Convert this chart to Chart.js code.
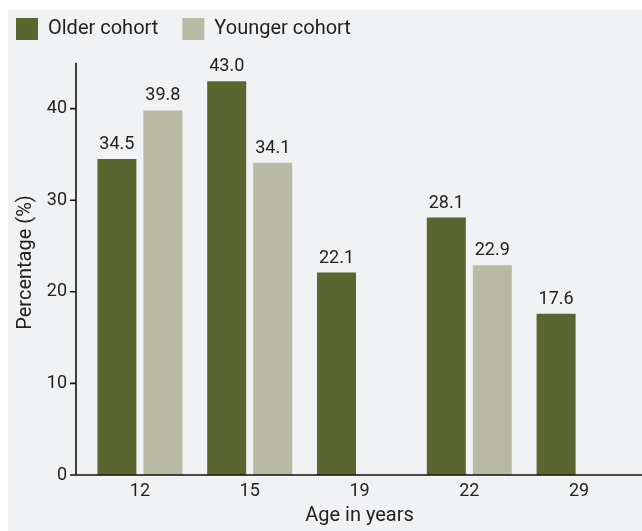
<!DOCTYPE html>
<html>
<head>
<meta charset="utf-8">
<script src="https://cdn.jsdelivr.net/npm/chart.js@4"></script>
<style>
  html, body { margin: 0; padding: 0; background: #ffffff; }
  #wrap { width: 642px; height: 531px; position: relative; }
</style>
</head>
<body>
<div id="wrap"><canvas id="chart"></canvas></div>
<script>
// data
const ages = ['12', '15', '19', '22', '29'];
const olderCohort = [34.5, 43.0, 22.1, 28.1, 17.6];
const youngerCohort = [39.8, 34.1, null, 22.9, null];
const yTicks = [0, 10, 20, 30, 40];

const FONT = "Roboto, 'Noto Sans', sans-serif";
const TEXT = '#222222';

// grey panel behind the chart
const panelBg = {
  id: 'panelBg',
  beforeDraw(chart) {
    const ctx = chart.ctx;
    ctx.save();
    ctx.fillStyle = '#f1f2f4';
    ctx.fillRect(8, 10, chart.width - 8, chart.height - 10);
    ctx.restore();
  }
};

// axis lines drawn a little outside the plot area like the original
const axisLines = {
  id: 'axisLines',
  afterDatasetsDraw(chart) {
    const ctx = chart.ctx;
    const y = chart.scales.y;
    const x0 = chart.chartArea.left - 9;
    const yBottom = y.getPixelForValue(0);
    ctx.save();
    ctx.strokeStyle = '#111111';
    ctx.lineWidth = 1.6;
    ctx.beginPath();
    ctx.moveTo(x0, y.getPixelForValue(45));
    ctx.lineTo(x0, yBottom);
    ctx.lineTo(chart.width, yBottom);
    yTicks.forEach(v => {
      const py = y.getPixelForValue(v);
      ctx.moveTo(x0 - 6, py);
      ctx.lineTo(x0, py);
    });
    ctx.stroke();
    ctx.restore();
  }
};

// value labels above bars
const barValues = {
  id: 'barValues',
  afterDatasetsDraw(chart) {
    const ctx = chart.ctx;
    ctx.save();
    ctx.font = '18px ' + FONT;
    ctx.fillStyle = TEXT;
    ctx.textAlign = 'center';
    ctx.textBaseline = 'alphabetic';
    chart.data.datasets.forEach((ds, i) => {
      chart.getDatasetMeta(i).data.forEach((bar, j) => {
        const v = ds.data[j];
        if (v === null) return;
        ctx.fillText(v.toFixed(1), bar.x, bar.y - 10);
      });
    });
    ctx.restore();
  }
};

new Chart(document.getElementById('chart'), {
  type: 'bar',
  data: {
    labels: ages,
    datasets: [
      {
        label: 'Older cohort',
        data: olderCohort,
        backgroundColor: '#5b652f',
        borderWidth: 0,
        categoryPercentage: 0.838,
        barPercentage: 0.848
      },
      {
        label: 'Younger cohort',
        data: youngerCohort,
        backgroundColor: '#b9baa3',
        borderWidth: 0,
        categoryPercentage: 0.838,
        barPercentage: 0.848
      }
    ]
  },
  options: {
    responsive: true,
    maintainAspectRatio: false,
    animation: false,
    layout: {
      padding: { left: -8, top: -6, right: 8, bottom: 0 }
    },
    plugins: {
      legend: {
        position: 'top',
        align: 'start',
        labels: {
          boxWidth: 22,
          boxHeight: 22,
          padding: 24,
          color: TEXT,
          font: { family: FONT, size: 20 }
        }
      },
      tooltip: { enabled: false }
    },
    scales: {
      x: {
        grid: { display: false, drawTicks: false },
        border: { display: false },
        ticks: {
          color: TEXT,
          padding: 6,
          font: { family: FONT, size: 18 }
        },
        title: {
          display: true,
          text: 'Age in years',
          color: TEXT,
          font: { family: FONT, size: 20 },
          padding: { top: 0, bottom: 3 }
        },
        afterFit(scale) { scale.height = 56; }
      },
      y: {
        min: 0,
        max: 46.4,
        grid: { display: false, drawTicks: false },
        border: { display: false },
        ticks: {
          stepSize: 10,
          color: TEXT,
          padding: 18,
          font: { family: FONT, size: 18 }
        },
        afterBuildTicks(scale) {
          scale.ticks = yTicks.map(v => ({ value: v }));
        },
        title: {
          display: true,
          text: 'Percentage (%)',
          color: TEXT,
          font: { family: FONT, size: 20 },
          padding: { top: 22, bottom: 0 }
        },
        afterFit(scale) { scale.width = 93; }
      }
    }
  },
  plugins: [panelBg, axisLines, barValues]
});
</script>
</body>
</html>
